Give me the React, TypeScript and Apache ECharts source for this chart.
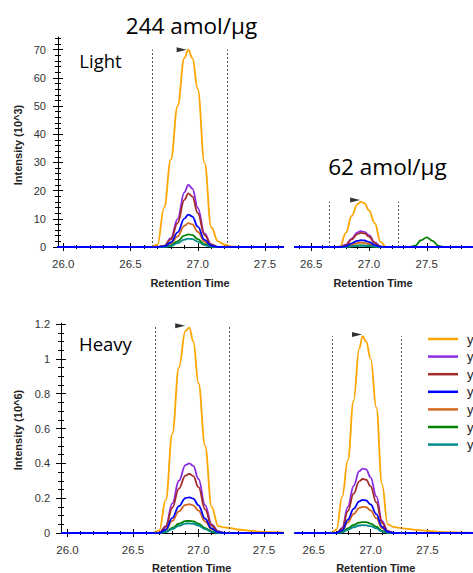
import React, { useEffect, useRef } from "react";
import * as echarts from "echarts";

// ---------- data ----------
const ionNames = ["y8", "y7", "y6", "y5", "y9", "y4", "y10"];
const ionColors = ["#FFA500", "#8A2BE2", "#A52A2A", "#0000FF", "#D2691E", "#008000", "#008B8B"];

const timesLeft = [25.95, 26.6, 26.65, 26.7, 26.75, 26.8, 26.85, 26.9, 26.93, 26.96, 27.0, 27.05, 27.1, 27.15, 27.2, 27.25, 27.3, 27.4, 27.5, 27.65];
const timesRight = [26.33, 26.6, 26.65, 26.7, 26.75, 26.8, 26.85, 26.9, 26.93, 26.96, 27.0, 27.05, 27.1, 27.15, 27.2, 27.25, 27.3, 27.35, 27.4, 27.45, 27.5, 27.55, 27.6, 27.65, 27.9];

// Light, 244 amol/ug (10^3)
const light244Orange = [0, 0, 0, 0.8, 14, 31, 50, 67, 70, 67, 56, 30, 7, 2, 0.8, 0.2, 0, 0, 0, 0];
const light244Purple = [0, 0, 0, 0, 0.4, 3.1, 9.9, 19.4, 22, 20.7, 13.9, 4.8, 0.9, 0, 0, 0, 0, 0, 0, 0];
const light244Brown = [0, 0, 0, 0, 0.4, 2.7, 8.5, 16.7, 19, 17.9, 12, 4.2, 0.8, 0, 0, 0, 0, 0, 0, 0];
const light244Blue = [0, 0, 0, 0, 0.2, 1.6, 5.2, 10.1, 11.5, 10.8, 7.2, 2.5, 0.5, 0, 0, 0, 0, 0, 0, 0];
const light244Choc = [0, 0, 0, 0, 0.2, 1.2, 3.8, 7.5, 8.5, 8, 5.4, 1.9, 0.3, 0, 0, 0, 0, 0, 0, 0];
const light244Green = [0, 0, 0, 0, 0.1, 0.6, 2, 4, 4.5, 4.2, 2.8, 1, 0.2, 0, 0, 0, 0, 0, 0, 0];
const light244Teal = [0, 0, 0, 0, 0, 0.4, 1.4, 2.6, 3, 2.8, 1.9, 0.7, 0.1, 0, 0, 0, 0, 0, 0, 0];

// Light, 62 amol/ug (10^3)
const light62Orange = [0, 0, 0, 0, 0.2, 5, 11, 15.2, 16, 15.6, 13, 8.5, 1.8, 0, 0, 0, 0, 0, 0, 0, 0, 0, 0, 0, 0];
const light62Purple = [0, 0, 0, 0, 0, 0.8, 3, 5.2, 5.6, 5.4, 4.2, 1.6, 0.1, 0, 0, 0, 0, 0, 0, 0, 0, 0, 0, 0, 0];
const light62Brown = [0, 0, 0, 0, 0, 0.7, 2.7, 4.6, 5, 4.8, 3.7, 1.4, 0.1, 0, 0, 0, 0, 0, 0, 0, 0, 0, 0, 0, 0];
const light62Blue = [0, 0, 0, 0, 0, 0.3, 1.3, 2.2, 2.4, 2.3, 1.8, 0.7, 0.05, 0, 0, 0, 0, 0, 0, 0, 0, 0, 0, 0, 0];
const light62Choc = [0, 0, 0, 0, 0, 0.2, 0.8, 1.4, 1.5, 1.45, 1.1, 0.4, 0, 0, 0, 0, 0, 0, 0, 0, 0, 0, 0, 0, 0];
const light62Green = [0, 0, 0, 0, 0, 0.1, 0.3, 0.55, 0.6, 0.58, 0.45, 0.15, 0, 0, 0, 0, 0, 0, 0.5, 2.4, 3.4, 2.2, 0.4, 0, 0];
const light62Teal = [0, 0, 0, 0, 0, 0.05, 0.2, 0.37, 0.4, 0.38, 0.3, 0.1, 0, 0, 0, 0, 0, 0, 0, 0, 0, 0, 0, 0, 0];

// Heavy, left (10^6)
const heavyLOrange = [0, 0, 0, 0.015, 0.19, 0.57, 0.95, 1.16, 1.18, 1.1, 0.86, 0.5, 0.15, 0.04, 0.032, 0.028, 0.02, 0.012, 0.006, 0.003];
const heavyLPurple = [0, 0, 0, 0, 0.04, 0.17, 0.3, 0.39, 0.4, 0.385, 0.31, 0.16, 0.05, 0.01, 0, 0, 0, 0, 0, 0];
const heavyLBrown = [0, 0, 0, 0, 0.035, 0.145, 0.255, 0.33, 0.34, 0.327, 0.263, 0.136, 0.043, 0.008, 0, 0, 0, 0, 0, 0];
const heavyLBlue = [0, 0, 0, 0, 0.02, 0.087, 0.154, 0.2, 0.205, 0.197, 0.159, 0.082, 0.026, 0.005, 0, 0, 0, 0, 0, 0];
const heavyLChoc = [0, 0, 0, 0, 0.017, 0.07, 0.124, 0.161, 0.165, 0.159, 0.128, 0.066, 0.021, 0.004, 0, 0, 0, 0, 0, 0];
const heavyLGreen = [0, 0, 0, 0, 0.007, 0.03, 0.053, 0.068, 0.07, 0.067, 0.054, 0.028, 0.009, 0.002, 0, 0, 0, 0, 0, 0];
const heavyLTeal = [0, 0, 0, 0, 0.005, 0.023, 0.041, 0.054, 0.055, 0.053, 0.043, 0.022, 0.007, 0.001, 0, 0, 0, 0, 0, 0];

// Heavy, right (10^6)
const heavyROrange = [0, 0, 0, 0.02, 0.21, 0.42, 0.76, 1.06, 1.13, 1.1, 1.0, 0.72, 0.28, 0.05, 0.035, 0.03, 0.025, 0.022, 0.018, 0.015, 0.012, 0.01, 0.007, 0.005, 0];
const heavyRPurple = [0, 0, 0, 0, 0.03, 0.15, 0.27, 0.355, 0.37, 0.365, 0.32, 0.21, 0.07, 0.012, 0, 0, 0, 0, 0, 0, 0, 0, 0, 0, 0];
const heavyRBrown = [0, 0, 0, 0, 0.025, 0.126, 0.226, 0.297, 0.31, 0.306, 0.268, 0.176, 0.059, 0.01, 0, 0, 0, 0, 0, 0, 0, 0, 0, 0, 0];
const heavyRBlue = [0, 0, 0, 0, 0.015, 0.077, 0.139, 0.182, 0.19, 0.187, 0.164, 0.108, 0.036, 0.006, 0, 0, 0, 0, 0, 0, 0, 0, 0, 0, 0];
const heavyRChoc = [0, 0, 0, 0, 0.012, 0.061, 0.109, 0.144, 0.15, 0.148, 0.13, 0.085, 0.028, 0.005, 0, 0, 0, 0, 0, 0, 0, 0, 0, 0, 0];
const heavyRGreen = [0, 0, 0, 0, 0.005, 0.026, 0.046, 0.06, 0.063, 0.062, 0.054, 0.036, 0.012, 0.002, 0, 0, 0, 0, 0, 0, 0, 0, 0, 0, 0];
const heavyRTeal = [0, 0, 0, 0, 0.004, 0.018, 0.033, 0.043, 0.045, 0.044, 0.039, 0.026, 0.009, 0.001, 0, 0, 0, 0, 0, 0, 0, 0, 0, 0, 0];

// peak boundaries, boundary heights, apex markers
const boundsTL = [26.66, 27.22];
const boundsTR = [26.66, 27.25];
const boundsBL = [26.67, 27.235];
const boundsBR = [26.66, 27.27];
const boundTops = [70, 16, 1.185, 1.13];
const apexTL = [26.88, 70];
const apexTR = [26.88, 16.7];
const apexBL = [26.86, 1.19];
const apexBR = [26.88, 1.14];

// tick labels
const xMajorLeft = [26.0, 26.5, 27.0, 27.5];
const xMinorLeft = [26.0, 26.1, 26.2, 26.3, 26.4, 26.5, 26.6, 26.7, 26.8, 26.9, 27.0, 27.1, 27.2, 27.3, 27.4, 27.5, 27.6];
const xMajorRight = [26.5, 27.0, 27.5];
const xMinorRight = [26.4, 26.5, 26.6, 26.7, 26.8, 26.9, 27.0, 27.1, 27.2, 27.3, 27.4, 27.5, 27.6, 27.7, 27.8, 27.9];
const yMajorLight = [0, 10, 20, 30, 40, 50, 60, 70];
const yMinorLight = [0, 2, 4, 6, 8, 10, 12, 14, 16, 18, 20, 22, 24, 26, 28, 30, 32, 34, 36, 38, 40, 42, 44, 46, 48, 50, 52, 54, 56, 58, 60, 62, 64, 66, 68, 70, 72, 74];
const yMajorHeavy = [0, 0.2, 0.4, 0.6, 0.8, 1.0, 1.2];
const yMinorHeavy = [0, 0.05, 0.1, 0.15, 0.2, 0.25, 0.3, 0.35, 0.4, 0.45, 0.5, 0.55, 0.6, 0.65, 0.7, 0.75, 0.8, 0.85, 0.9, 0.95, 1.0, 1.05, 1.1, 1.15, 1.2];

// ---------- layout ----------
const AX_FONT = "Arial, 'Liberation Sans', sans-serif";
const TITLE_FONT = "'Open Sans', 'Noto Sans', sans-serif";

type Panel = {
  grid: { left: number; top: number; width: number; height: number };
  x: [number, number];
  y: [number, number];
  xMajor: number[];
  xMinor: number[];
  yMajor: number[] | null;
  yMinor: number[] | null;
  yFmt: (v: number) => string;
  yLabelMargin: number;
  times: number[];
  values: number[][];
  bounds: number[];
  boundTop: number;
  apex: number[];
};

const panels: Panel[] = [
  {
    grid: { left: 58, top: 37, width: 224, height: 210 },
    x: [25.961, 27.626], y: [0, 74.5],
    xMajor: xMajorLeft, xMinor: xMinorLeft, yMajor: yMajorLight, yMinor: yMinorLight,
    yFmt: (v) => String(v), yLabelMargin: 12,
    times: timesLeft,
    values: [light244Orange, light244Purple, light244Brown, light244Blue, light244Choc, light244Green, light244Teal],
    bounds: boundsTL, boundTop: boundTops[0], apex: apexTL,
  },
  {
    grid: { left: 295, top: 37, width: 206, height: 210 },
    x: [26.36, 27.9], y: [0, 74.5],
    xMajor: xMajorRight, xMinor: xMinorRight, yMajor: null, yMinor: null,
    yFmt: (v) => String(v), yLabelMargin: 12,
    times: timesRight,
    values: [light62Orange, light62Purple, light62Brown, light62Blue, light62Choc, light62Green, light62Teal],
    bounds: boundsTR, boundTop: boundTops[1], apex: apexTR,
  },
  {
    grid: { left: 61, top: 323, width: 222, height: 210 },
    x: [25.95, 27.645], y: [0, 1.206],
    xMajor: xMajorLeft, xMinor: xMinorLeft, yMajor: yMajorHeavy, yMinor: yMinorHeavy,
    yFmt: (v) => String(Math.round(v * 10) / 10), yLabelMargin: 11,
    times: timesLeft,
    values: [heavyLOrange, heavyLPurple, heavyLBrown, heavyLBlue, heavyLChoc, heavyLGreen, heavyLTeal],
    bounds: boundsBL, boundTop: boundTops[2], apex: apexBL,
  },
  {
    grid: { left: 295, top: 323, width: 205, height: 210 },
    x: [26.335, 27.9], y: [0, 1.206],
    xMajor: xMajorRight, xMinor: xMinorRight, yMajor: null, yMinor: null,
    yFmt: (v) => String(v), yLabelMargin: 11,
    times: timesRight,
    values: [heavyROrange, heavyRPurple, heavyRBrown, heavyRBlue, heavyRChoc, heavyRGreen, heavyRTeal],
    bounds: boundsBR, boundTop: boundTops[3], apex: apexBR,
  },
];

function tickOnly(base: any, values: number[], length: number, inside: boolean) {
  return {
    ...base,
    axisLine: { show: false },
    axisLabel: { show: false },
    splitLine: { show: false },
    axisTick: { show: true, customValues: values, length, inside, lineStyle: { color: "#000", width: 1 } },
  };
}

function buildOption() {
  const grid: any[] = [];
  const xAxis: any[] = [];
  const yAxis: any[] = [];
  const series: any[] = [];

  panels.forEach((p, gi) => {
    grid.push({ ...p.grid, containLabel: false, show: false });

    const xBase = { type: "value", gridIndex: gi, min: p.x[0], max: p.x[1], position: "bottom" };
    const xMainIndex = xAxis.length;
    xAxis.push({
      ...xBase,
      axisLine: { show: true, lineStyle: { color: "#000", width: 1 } },
      axisTick: { show: true, customValues: p.xMajor, length: 4, lineStyle: { color: "#000", width: 1 } },
      axisLabel: {
        show: true, customValues: p.xMajor, margin: 11,
        formatter: (v: number) => v.toFixed(1),
        color: "#333", fontSize: 11.5, fontFamily: AX_FONT,
      },
      splitLine: { show: false },
    });
    xAxis.push(tickOnly(xBase, p.xMajor, 4, true));
    xAxis.push(tickOnly(xBase, p.xMinor, 2, false));
    xAxis.push(tickOnly(xBase, p.xMinor, 2, true));

    const yBase = { type: "value", gridIndex: gi, min: p.y[0], max: p.y[1], position: "left" };
    const yMainIndex = yAxis.length;
    if (p.yMajor && p.yMinor) {
      yAxis.push({
        ...yBase,
        axisLine: { show: true, lineStyle: { color: "#000", width: 1 } },
        axisTick: { show: true, customValues: p.yMajor, length: 5, lineStyle: { color: "#000", width: 1 } },
        axisLabel: {
          show: true, customValues: p.yMajor, margin: p.yLabelMargin,
          formatter: p.yFmt, color: "#333", fontSize: 11, fontFamily: AX_FONT,
        },
        splitLine: { show: false },
      });
      yAxis.push(tickOnly(yBase, p.yMajor, 5, true));
      yAxis.push(tickOnly(yBase, p.yMinor, 3, false));
      yAxis.push(tickOnly(yBase, p.yMinor, 3, true));
    } else {
      yAxis.push({ ...yBase, show: false, splitLine: { show: false } });
    }

    p.values.forEach((vals, k) => {
      const s: any = {
        type: "line",
        name: ionNames[k],
        xAxisIndex: xMainIndex,
        yAxisIndex: yMainIndex,
        data: p.times.map((t, i) => [t, vals[i]]),
        symbol: "none",
        showSymbol: false,
        smooth: 0.4,
        smoothMonotone: "x",
        lineStyle: { color: ionColors[k], width: 1.8 },
        itemStyle: { color: ionColors[k] },
        z: k === 3 ? 4 : 3,
      };
      if (k === 0) {
        s.markLine = {
          silent: true,
          symbol: ["none", "none"],
          label: { show: false },
          lineStyle: { color: "#555", type: [2, 2], width: 1 },
          data: p.bounds.map((b) => [{ coord: [b, 0] }, { coord: [b, p.boundTop] }]),
        };
      }
      series.push(s);
    });

    series.push({
      type: "scatter",
      name: "apex",
      xAxisIndex: xMainIndex,
      yAxisIndex: yMainIndex,
      data: [p.apex],
      symbol: "path://M0,0L10,2.5L0,5Z",
      symbolSize: [10, 5],
      itemStyle: { color: "#000" },
      z: 6,
      silent: true,
    });
  });

  const nameStyle = { fill: "#222", font: `bold 11px ${AX_FONT}`, textAlign: "center", textVerticalAlign: "middle" };
  const titleStyle = (size: number, align: string) => ({ fill: "#000", font: `${size}px ${TITLE_FONT}`, textAlign: align, textVerticalAlign: "middle" });

  const graphic = [
    { type: "text", x: 191.5, y: 25, style: { text: "244 amol/µg", ...titleStyle(22.5, "center") } },
    { type: "text", x: 387.5, y: 166.5, style: { text: "62 amol/µg", ...titleStyle(22.5, "center") } },
    { type: "text", x: 79.3, y: 60, style: { text: "Light", ...titleStyle(18.5, "left") } },
    { type: "text", x: 79, y: 343.5, style: { text: "Heavy", ...titleStyle(18.5, "left") } },
    { type: "text", x: 190, y: 283, style: { text: "Retention Time", ...nameStyle } },
    { type: "text", x: 373, y: 283, style: { text: "Retention Time", ...nameStyle } },
    { type: "text", x: 191.7, y: 567.5, style: { text: "Retention Time", ...nameStyle } },
    { type: "text", x: 375.8, y: 567.5, style: { text: "Retention Time", ...nameStyle } },
    { type: "text", x: 18, y: 145, rotation: Math.PI / 2, style: { text: "Intensity (10^3)", ...nameStyle } },
    { type: "text", x: 18.3, y: 430, rotation: Math.PI / 2, style: { text: "Intensity (10^6)", ...nameStyle } },
  ];

  return {
    animation: false,
    backgroundColor: "#fff",
    grid,
    xAxis,
    yAxis,
    series,
    graphic,
    legend: {
      data: ionNames,
      orient: "vertical",
      left: 423,
      top: 327,
      padding: 5,
      itemWidth: 30,
      itemHeight: 14,
      itemGap: 3.6,
      icon: "path://M0,0H30V2.5H0Z",
      symbolKeepAspect: true,
      textStyle: { fontSize: 13, color: "#222", fontFamily: AX_FONT, lineHeight: 14, padding: [0, 0, 0, 4] },
      selectedMode: false,
    },
  };
}

export default function App() {
  const ref = useRef<HTMLDivElement>(null);
  useEffect(() => {
    if (!ref.current) return;
    const chart = echarts.init(ref.current, null, { renderer: "svg" });
    chart.setOption(buildOption() as any);
    return () => chart.dispose();
  }, []);
  return (
    <div
      ref={ref}
      style={{ position: "fixed", left: 0, top: 0, width: 473, height: 573, background: "#fff", overflow: "hidden" }}
    />
  );
}
